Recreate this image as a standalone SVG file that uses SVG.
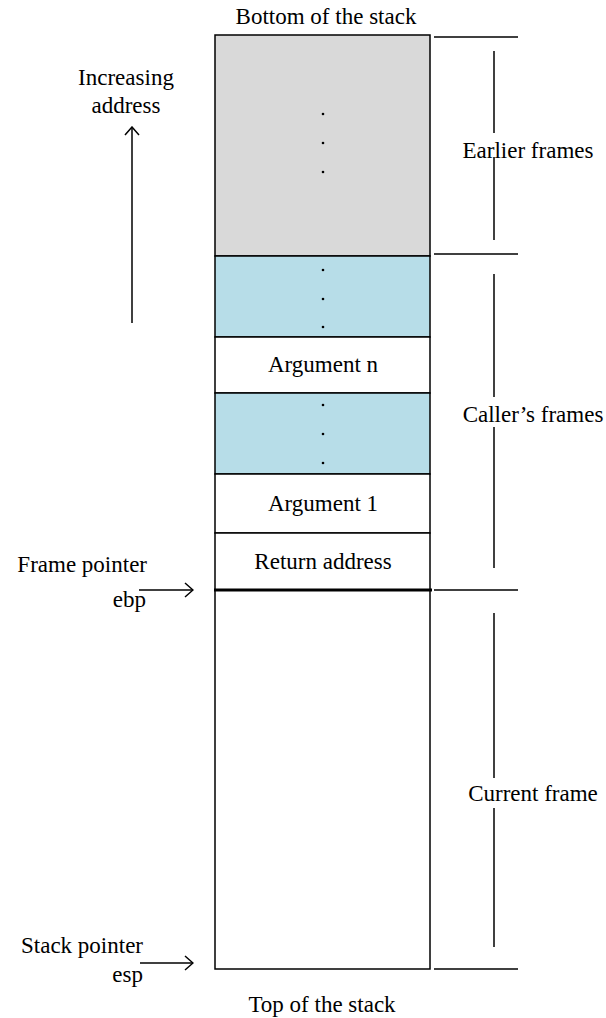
<svg xmlns="http://www.w3.org/2000/svg" width="606" height="1018" viewBox="0 0 606 1018">
  <style>
    text { font-family: "Liberation Serif", "Times New Roman", serif; font-size: 23px; fill: #000; }
    .mid { text-anchor: middle; }
    .end { text-anchor: end; }
    .cell { stroke: #000; stroke-width: 1.5; }
    .gray { fill: #d9d9d9; }
    .blue { fill: #b7dde8; }
    .white { fill: #ffffff; }
    .ln { stroke: #000; stroke-width: 1.5; fill: none; }
    .dot { fill: #000; }
  </style>
  <defs>
    <marker id="chevron" viewBox="0 0 10 16" refX="9" refY="8" markerWidth="10" markerHeight="16" markerUnits="userSpaceOnUse" orient="auto">
      <path d="M1,1 L9,8 L1,15" fill="none" stroke="#000" stroke-width="1.5"/>
    </marker>
  </defs>

  <rect width="606" height="1018" fill="#ffffff"/>

  <text class="mid" x="326" y="24">Bottom of the stack</text>
  <text class="mid" x="322" y="1012">Top of the stack</text>

  <!-- stack cells, top (high address) to bottom -->
  <g id="earlier-cell">
    <rect class="cell gray" x="215" y="35" width="215" height="221"/>
    <circle class="dot" cx="323" cy="114" r="1.3"/>
    <circle class="dot" cx="323" cy="143" r="1.3"/>
    <circle class="dot" cx="323" cy="172" r="1.3"/>
  </g>
  <g id="caller-upper">
    <rect class="cell blue" x="215" y="256" width="215" height="81"/>
    <circle class="dot" cx="323" cy="270" r="1.3"/>
    <circle class="dot" cx="323" cy="299" r="1.3"/>
    <circle class="dot" cx="323" cy="327" r="1.3"/>
  </g>
  <g id="argument-n">
    <rect class="cell white" x="215" y="337" width="215" height="56"/>
    <text class="mid" x="323" y="372">Argument n</text>
  </g>
  <g id="caller-lower">
    <rect class="cell blue" x="215" y="393" width="215" height="81"/>
    <circle class="dot" cx="323" cy="405" r="1.3"/>
    <circle class="dot" cx="323" cy="434" r="1.3"/>
    <circle class="dot" cx="323" cy="463" r="1.3"/>
  </g>
  <g id="argument-1">
    <rect class="cell white" x="215" y="474" width="215" height="59"/>
    <text class="mid" x="323" y="511">Argument 1</text>
  </g>
  <g id="return-address">
    <rect class="cell white" x="215" y="533" width="215" height="57"/>
    <text class="mid" x="323" y="569">Return address</text>
  </g>
  <g id="current-cell">
    <rect class="cell white" x="215" y="590" width="215" height="379"/>
    <line x1="214" y1="590" x2="432" y2="590" stroke="#000" stroke-width="3"/>
  </g>

  <!-- left-side labels -->
  <g id="address-direction">
    <text class="mid" x="126" y="85">Increasing</text>
    <text class="mid" x="126" y="113">address</text>
  </g>
  <g id="frame-pointer">
    <text class="end" x="147" y="572">Frame pointer</text>
    <text class="end" x="146" y="607">ebp</text>
  </g>
  <g id="stack-pointer">
    <text class="end" x="143" y="953">Stack pointer</text>
    <text class="end" x="143" y="982">esp</text>
  </g>

  <!-- right-side frame ranges -->
  <g id="earlier-frames">
    <text class="mid" x="528" y="158">Earlier frames</text>
  </g>
  <g id="callers-frames">
    <text class="mid" x="533" y="422">Caller’s frames</text>
  </g>
  <g id="current-frame">
    <text class="mid" x="533" y="801">Current frame</text>
  </g>

  <g id="connectors">
    <!-- direction arrow -->
    <line class="ln" x1="132" y1="323" x2="132" y2="127" marker-end="url(#chevron)"/>
    <!-- pointer arrows -->
    <line class="ln" x1="139" y1="590" x2="193" y2="590" marker-end="url(#chevron)"/>
    <line class="ln" x1="140" y1="963" x2="193" y2="963" marker-end="url(#chevron)"/>
    <!-- range ticks -->
    <line class="ln" x1="434" y1="37" x2="518" y2="37"/>
    <line class="ln" x1="434" y1="254" x2="518" y2="254"/>
    <line class="ln" x1="434" y1="590" x2="518" y2="590"/>
    <line class="ln" x1="434" y1="969" x2="518" y2="969"/>
    <!-- range spans -->
    <line class="ln" x1="494" y1="51" x2="494" y2="133"/>
    <line class="ln" x1="494" y1="157" x2="494" y2="240"/>
    <line class="ln" x1="494" y1="274" x2="494" y2="397"/>
    <line class="ln" x1="494" y1="427" x2="494" y2="568"/>
    <line class="ln" x1="494" y1="613" x2="494" y2="778"/>
    <line class="ln" x1="494" y1="808" x2="494" y2="947"/>
  </g>
</svg>
